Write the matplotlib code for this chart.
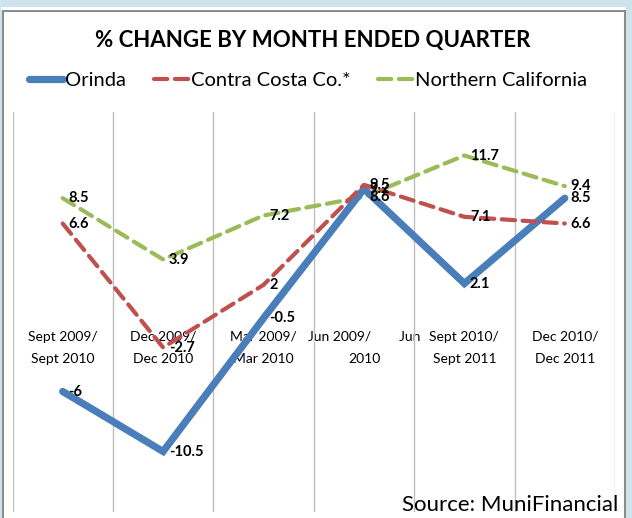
import matplotlib.pyplot as plt
from matplotlib.patches import Rectangle

categories = ["Sept 2009/\nSept 2010", "Dec 2009/\nDec 2010", "Mar 2009/\nMar 2010",
              "Jun 2009/        Jun\n2010", "Sept 2010/\nSept 2011", "Dec 2010/\nDec 2011"]
orinda = [-6, -10.5, -0.5, 9.2, 2.1, 8.5]
contra_costa = [6.6, -2.7, 2, 9.5, 7.1, 6.6]
northern_cal = [8.5, 3.9, 7.2, 8.6, 11.7, 9.4]

plt.rcParams['font.family'] = ['Lato', 'DejaVu Sans']

fig = plt.figure(figsize=(6.32, 5.18), dpi=100)
fig.patch.set_facecolor('#cde4ef')
# white chart panel with grey border
fig.patches.append(Rectangle((2.5 / 632, -0.01), 622 / 632, 1.01 - 10.5 / 518, transform=fig.transFigure,
                             facecolor='white', edgecolor='#8c8c8c', linewidth=1.5, zorder=-2))
fig.patches.append(Rectangle((1 / 632, 1 - 10 / 518), 625 / 632, 3 / 518, transform=fig.transFigure,
                             facecolor='white', edgecolor='none', zorder=-2))

ax = fig.add_axes([12.5 / 632, 1 - 511.5 / 518, 602.5 / 632, 400 / 518])
ax.set_facecolor('none')
ax.spines['bottom'].set_position(('data', 0))
for s in ax.spines.values():
    s.set_visible(False)
x = list(range(len(categories)))

ax.plot(x, orinda, color='#4a7ebb', linewidth=5.2, solid_capstyle='round', solid_joinstyle='miter',
        label='Orinda', zorder=3)
ax.plot(x, contra_costa, color='#c0504d', linewidth=3, dashes=(3.2, 1.8), dash_capstyle='round',
        label='Contra Costa Co.*', zorder=4)
ax.plot(x, northern_cal, color='#9bbb59', linewidth=3, dashes=(3.2, 1.8), dash_capstyle='round',
        label='Northern California', zorder=2)

for series in (orinda, contra_costa, northern_cal):
    for xi, v in zip(x, series):
        ax.annotate(f"{v:g}", (xi, v), xytext=(4, 0), textcoords='offset points',
                    ha='left', va='center', fontsize=10.5, fontweight='bold', zorder=5)

ax.set_xlim(-0.5, 5.5)
ax.set_ylim(-15, 15)
ax.set_xticks([i - 0.5 for i in range(len(categories) + 1)], minor=True)
ax.grid(True, which='minor', axis='x', color='#bfbfbf', linewidth=1)
ax.tick_params(axis='x', which='both', length=0, pad=14)
ax.set_xticks(x)
ax.set_xticklabels(categories, fontsize=10, linespacing=2.0)
ax.set_yticks([])

fig.text(0.495, 1 - 40 / 518, "% CHANGE BY MONTH ENDED QUARTER", ha='center', va='center',
         fontsize=16, fontweight='bold')
fig.legend(loc='center', bbox_to_anchor=(0.487, 1 - 80 / 518), ncol=3, frameon=False,
           fontsize=14.5, handlelength=1.7, handletextpad=0.1, columnspacing=1.4)
fig.text(618 / 632, 1 - 505 / 518, "Source: MuniFinancial", ha='right', va='center',
         fontsize=16)

fig.savefig('out.png', dpi=100, facecolor=fig.get_facecolor())
